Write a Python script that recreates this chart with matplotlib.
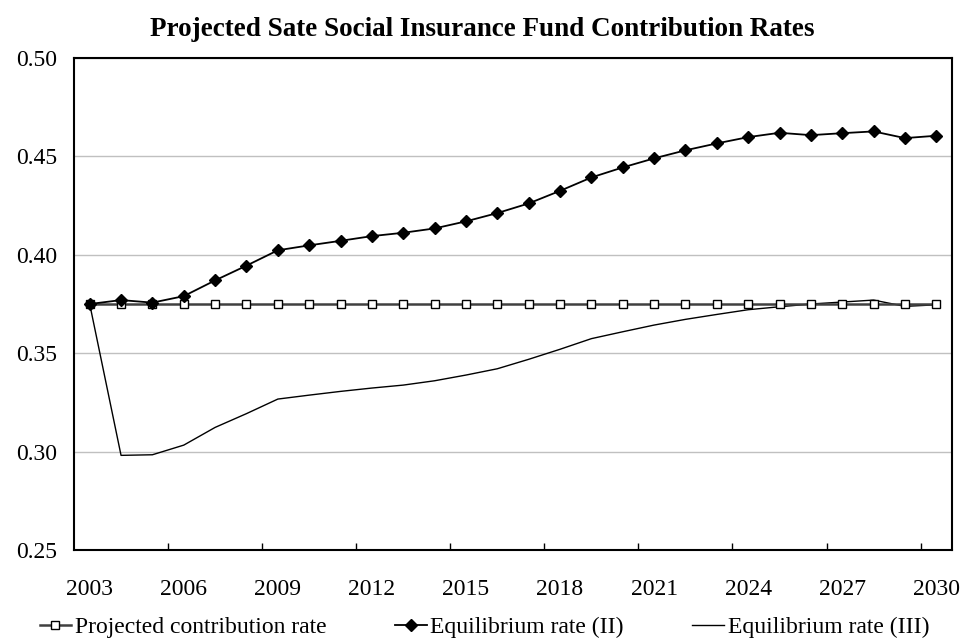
import matplotlib
matplotlib.use("Agg")
import matplotlib.pyplot as plt

plt.rcParams["font.family"] = ["Liberation Serif", "DejaVu Serif"]

years = list(range(2003, 2031))
projected = [0.375] * 28
equilibrium_ii = [0.375, 0.377, 0.3757, 0.379, 0.387, 0.3945, 0.4023, 0.4048,
                  0.4071, 0.4095, 0.4112, 0.4134, 0.4170, 0.4212, 0.4261, 0.4325,
                  0.4393, 0.4444, 0.4490, 0.4531, 0.4566, 0.4598, 0.4620, 0.4608,
                  0.4618, 0.4627, 0.4593, 0.4605]
equilibrium_iii = [0.375, 0.2981, 0.2984, 0.3033, 0.3123, 0.3193, 0.3267, 0.3287,
                   0.3306, 0.3323, 0.3338, 0.3360, 0.3389, 0.3421, 0.3469, 0.3520,
                   0.3574, 0.3609, 0.3643, 0.3672, 0.3697, 0.3721, 0.3736, 0.3750,
                   0.3760, 0.3770, 0.3738, 0.3746]
y_ticks = [0.25, 0.30, 0.35, 0.40, 0.45, 0.50]

x = list(range(len(years)))

fig = plt.figure(figsize=(9.65, 6.43), dpi=100)
ax = fig.add_axes([0.0767, 0.1446, 0.9098, 0.7652])

ax.plot(x, projected, color="#404040", linewidth=1.8, marker="s", markersize=6,
        markerfacecolor="white", markeredgecolor="black", markeredgewidth=1.0,
        label="Projected contribution rate", zorder=3)
ax.plot(x, equilibrium_ii, color="black", linewidth=1.3, marker="D", markersize=6,
        label="Equilibrium rate (II)", zorder=4)
ax.plot(x, equilibrium_iii, color="black", linewidth=1.0,
        label="Equilibrium rate (III)", zorder=2)

ax.set_xlim(-0.5, len(years) - 0.5)
ax.set_ylim(0.25, 0.50)
ax.set_yticks(y_ticks)
ax.set_yticklabels([f"{v:.2f}" for v in y_ticks])
ax.yaxis.grid(True, color="#c0c0c0", linewidth=1.0)
ax.set_axisbelow(True)

label_pos = list(range(0, len(years), 3))
ax.set_xticks(label_pos)
ax.set_xticklabels([str(years[i]) for i in label_pos])
ax.set_xticks([p - 0.5 for p in range(3, len(years), 3)], minor=True)
ax.tick_params(axis="x", which="major", length=0, pad=21, labelsize=17)
ax.tick_params(axis="x", which="minor", direction="in", length=5, width=1)
ax.tick_params(axis="y", which="major", direction="in", length=0, pad=12, labelsize=17)

for s in ax.spines.values():
    s.set_linewidth(1.5)
    s.set_color("black")

fig.text(0.5, 1 - 30 / 643, "Projected Sate Social Insurance Fund Contribution Rates",
         ha="center", va="center", fontsize=19.5, fontweight="bold")

fig.legend(loc="center", bbox_to_anchor=(0.502, 0.024), ncol=3, frameon=False,
           fontsize=17, handlelength=1.35, handletextpad=0.15, columnspacing=2.9,
           borderaxespad=0)

fig.savefig("out.png", dpi=100)
